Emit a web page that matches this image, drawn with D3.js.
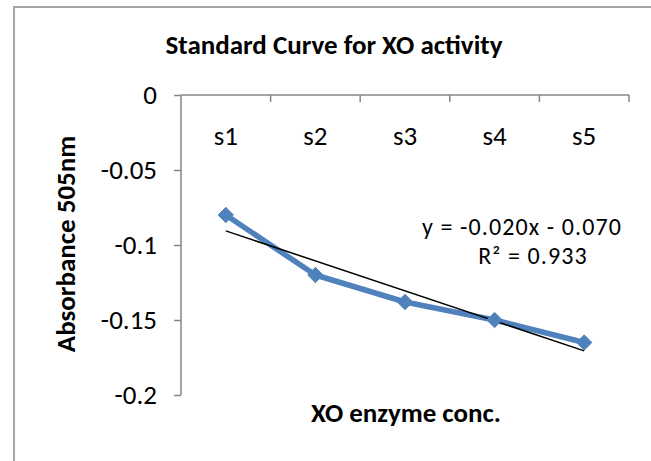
<!DOCTYPE html>
<html>
<head>
<meta charset="utf-8">
<script src="https://cdn.jsdelivr.net/npm/d3@7"></script>
<style>
  body { margin: 0; background: #fff; }
  svg text { font-family: Carlito, Calibri, Lato, sans-serif; fill: #000; }
</style>
</head>
<body>
<svg id="chart" width="651" height="461"></svg>
<script>
// data
var categories = ["s1", "s2", "s3", "s4", "s5"];
var absorbance = [-0.08, -0.12, -0.138, -0.15, -0.165];
var yTicks = [0, -0.05, -0.1, -0.15, -0.2];
var titleText = "Standard Curve for XO activity";
var xTitle = "XO enzyme conc.";
var yTitle = "Absorbance 505nm";
var eqText = ["y = -0.020x - 0.070", "R\u00b2 = 0.933"];

var width = 651, height = 461;
var plot_left = 181, plot_right = 629, plot_top = 95, plot_bottom = 395;
var axis_color = "#868686";
var series_color = "#4f81bd";
var fontSize = 27;

var svg = d3.select("#chart");

// outer frame (only top and left edges show)
svg.append("path")
    .attr("d", "M14," + height + " L14,7 L" + width + ",7")
    .attr("fill", "none")
    .attr("stroke", "#a6a6a6")
    .attr("stroke-width", 2);

var x = d3.scalePoint()
    .domain(categories)
    .range([plot_left, plot_right])
    .padding(0.5);
var band = d3.scaleBand()
    .domain(categories)
    .range([plot_left, plot_right]);
var y = d3.scaleLinear()
    .domain([-0.2, 0])
    .range([plot_bottom, plot_top]);

// Y axis
var yAxis = svg.append("g")
    .attr("transform", "translate(" + plot_left + ",0)")
    .call(d3.axisLeft(y).tickValues(yTicks).tickSize(7).tickPadding(17)
        .tickFormat(function(d){ return d === 0 ? "0" : String(d); }));
yAxis.select(".domain").attr("stroke", axis_color).attr("stroke-width", 1.5).attr("d", "M0," + plot_top + "V" + plot_bottom);
yAxis.selectAll(".tick line").attr("stroke", axis_color).attr("stroke-width", 1.5);
yAxis.selectAll(".tick text").attr("font-size", fontSize).attr("fill", "#000");

// X axis sits at y = 0 with ticks between categories
var xAxisG = svg.append("g");
xAxisG.append("line")
    .attr("x1", plot_left).attr("x2", plot_right)
    .attr("y1", y(0)).attr("y2", y(0))
    .attr("stroke", axis_color).attr("stroke-width", 1.5);
var bounds = categories.map(function(c){ return band(c); }).concat([band(categories[4]) + band.bandwidth()]);
xAxisG.selectAll("line.tk")
    .data(bounds.slice(1))
    .enter().append("line")
    .attr("class", "tk")
    .attr("x1", function(d){ return d; }).attr("x2", function(d){ return d; })
    .attr("y1", y(0)).attr("y2", y(0) + 7)
    .attr("stroke", axis_color).attr("stroke-width", 1.5);
xAxisG.selectAll("text")
    .data(categories)
    .enter().append("text")
    .text(function(d){ return d; })
    .attr("x", function(d){ return x(d); })
    .attr("y", 145)
    .attr("text-anchor", "middle")
    .attr("font-size", fontSize);

// Trendline (least squares on category index)
var idx = categories.map(function(d, i){ return i + 1; });
var mx = d3.mean(idx), my = d3.mean(absorbance);
var sxy = d3.sum(idx, function(d, i){ return (d - mx) * (absorbance[i] - my); });
var sxx = d3.sum(idx, function(d){ return (d - mx) * (d - mx); });
var slope = sxy / sxx, intercept = my - slope * mx;
var xi = d3.scaleLinear().domain([1, categories.length]).range([x(categories[0]), x(categories[categories.length - 1])]);

// Series line
var line = d3.line()
    .x(function(d, i){ return x(categories[i]); })
    .y(function(d){ return y(d); });
svg.append("path")
    .datum(absorbance)
    .attr("d", line)
    .attr("fill", "none")
    .attr("stroke", series_color)
    .attr("stroke-width", 5.5)
    .attr("stroke-linejoin", "round");

svg.append("line")
    .attr("x1", xi(1)).attr("y1", y(slope + intercept))
    .attr("x2", xi(categories.length)).attr("y2", y(slope * categories.length + intercept))
    .attr("stroke", "#000")
    .attr("stroke-width", 1.5);

// Diamond markers
svg.selectAll("path.marker")
    .data(absorbance)
    .enter().append("path")
    .attr("class", "marker")
    .attr("d", d3.symbol().type(d3.symbolDiamond2).size(150))
    .attr("transform", function(d, i){ return "translate(" + x(categories[i]) + "," + y(d) + ")"; })
    .attr("fill", series_color)
    .attr("stroke", series_color)
    .attr("stroke-width", 1);

// Equation label (slightly smaller, spaced out so the lines don't collide)
svg.append("text").text(eqText[0])
    .attr("x", 522).attr("y", 235)
    .attr("text-anchor", "middle").attr("font-size", 24)
    .attr("letter-spacing", 1.1);
svg.append("text").text(eqText[1])
    .attr("x", 533).attr("y", 264)
    .attr("text-anchor", "middle").attr("font-size", 24)
    .attr("letter-spacing", 1.1);

// Titles
svg.append("text").text(titleText)
    .attr("x", 334).attr("y", 54)
    .attr("text-anchor", "middle")
    .attr("font-size", fontSize).attr("font-weight", "bold");
svg.append("text").text(xTitle)
    .attr("x", 406).attr("y", 422)
    .attr("text-anchor", "middle")
    .attr("font-size", fontSize).attr("font-weight", "bold");
svg.append("text").text(yTitle)
    .attr("transform", "translate(75,244) rotate(-90)")
    .attr("text-anchor", "middle")
    .attr("font-size", fontSize).attr("font-weight", "bold");
</script>
</body>
</html>
